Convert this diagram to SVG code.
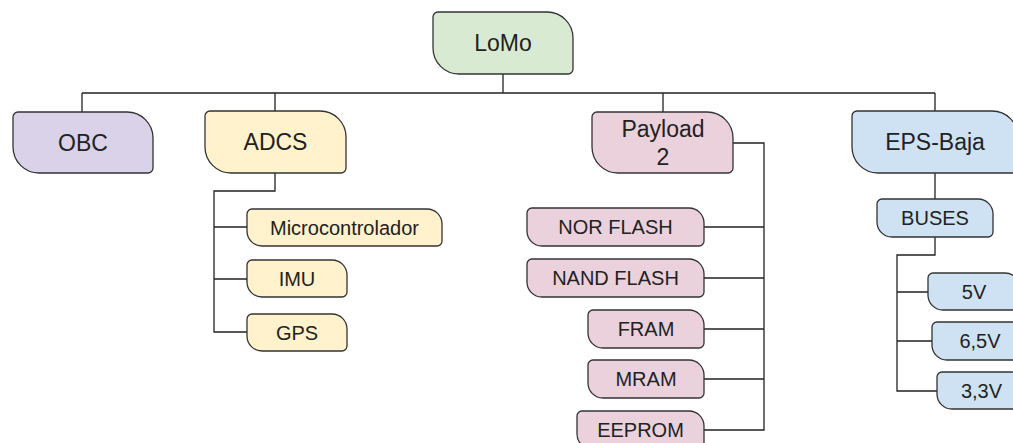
<svg xmlns="http://www.w3.org/2000/svg" width="1013" height="443" viewBox="0 0 1013 443">
<style>
.n{stroke:#333;stroke-width:1.3}
.g{fill:#d9ead3}.p{fill:#d9d2e9}.y{fill:#fff2cc}.k{fill:#ead1dc}.b{fill:#cfe2f3}
text{font-family:"Liberation Sans",Arial,sans-serif;fill:#222;text-anchor:middle}
.L{font-size:23px}.S{font-size:20px}
.c{fill:none;stroke:#222;stroke-width:1.3}
</style>
<rect width="1013" height="443" fill="#fff"/>
<g id="connectors">
<path class="c" d="M503,74 V93 M82,93 H935 M82,93 V112 M275,93 V111 M663,93 V112 M935,93 V111"/>
<path class="c" d="M275,173 V191 H214 V227 H247 M214,191 V279 H247 M214,191 V332 H247"/>
<path class="c" d="M733,143 H764 V430 H704 M764,227 H704 M764,278 H704 M764,329 H704 M764,379 H704"/>
<path class="c" d="M935,173 V199"/>
<path class="c" d="M935,237 V255 H897 V391 H937 M897,255 V292 H928 M897,255 V341 H932"/>
</g>
<g id="lomo"><path class="n g" d="M438,12 H547 A26 26 0 0 1 573,38 V69 A5 5 0 0 1 568,74 H459 A26 26 0 0 1 433,48 V17 A5 5 0 0 1 438,12 Z"/><text class="L" x="503" y="51">LoMo</text></g>
<g id="obc"><path class="n p" d="M18,112 H127 A26 26 0 0 1 153,138 V168 A5 5 0 0 1 148,173 H39 A26 26 0 0 1 13,147 V117 A5 5 0 0 1 18,112 Z"/><text class="L" x="83" y="151">OBC</text></g>
<g id="adcs"><path class="n y" d="M210,111 H320 A26 26 0 0 1 346,137 V168 A5 5 0 0 1 341,173 H231 A26 26 0 0 1 205,147 V116 A5 5 0 0 1 210,111 Z"/><text class="L" x="275.5" y="150">ADCS</text></g>
<g id="payload"><path class="n k" d="M597,112 H707 A26 26 0 0 1 733,138 V168 A5 5 0 0 1 728,173 H618 A26 26 0 0 1 592,147 V117 A5 5 0 0 1 597,112 Z"/><text class="L" x="663" y="137">Payload</text><text class="L" x="663" y="165">2</text></g>
<g id="eps"><path class="n b" d="M857,111 H992 A26 26 0 0 1 1018,137 V168 A5 5 0 0 1 1013,173 H878 A26 26 0 0 1 852,147 V116 A5 5 0 0 1 857,111 Z"/><text class="L" x="935" y="150">EPS-Baja</text></g>
<g id="micro"><path class="n y" d="M252,209 H427 A15 15 0 0 1 442,224 V241 A5 5 0 0 1 437,246 H262 A15 15 0 0 1 247,231 V214 A5 5 0 0 1 252,209 Z"/><text class="S" x="344.5" y="234.5">Microcontrolador</text></g>
<g id="imu"><path class="n y" d="M252,260 H332 A15 15 0 0 1 347,275 V292 A5 5 0 0 1 342,297 H262 A15 15 0 0 1 247,282 V265 A5 5 0 0 1 252,260 Z"/><text class="S" x="297" y="285.5">IMU</text></g>
<g id="gps"><path class="n y" d="M252,314 H332 A15 15 0 0 1 347,329 V346 A5 5 0 0 1 342,351 H262 A15 15 0 0 1 247,336 V319 A5 5 0 0 1 252,314 Z"/><text class="S" x="297" y="339.5">GPS</text></g>
<g id="norflash"><path class="n k" d="M532,208 H689 A15 15 0 0 1 704,223 V241 A5 5 0 0 1 699,246 H542 A15 15 0 0 1 527,231 V213 A5 5 0 0 1 532,208 Z"/><text class="S" x="615.5" y="234">NOR FLASH</text></g>
<g id="nandflash"><path class="n k" d="M532,259 H689 A15 15 0 0 1 704,274 V292 A5 5 0 0 1 699,297 H542 A15 15 0 0 1 527,282 V264 A5 5 0 0 1 532,259 Z"/><text class="S" x="615.5" y="285">NAND FLASH</text></g>
<g id="fram"><path class="n k" d="M593,310 H689 A15 15 0 0 1 704,325 V343 A5 5 0 0 1 699,348 H603 A15 15 0 0 1 588,333 V315 A5 5 0 0 1 593,310 Z"/><text class="S" x="646" y="336">FRAM</text></g>
<g id="mram"><path class="n k" d="M593,360 H689 A15 15 0 0 1 704,375 V393 A5 5 0 0 1 699,398 H603 A15 15 0 0 1 588,383 V365 A5 5 0 0 1 593,360 Z"/><text class="S" x="646" y="386">MRAM</text></g>
<g id="eeprom"><path class="n k" d="M582,411 H689 A15 15 0 0 1 704,426 V444 A5 5 0 0 1 699,449 H592 A15 15 0 0 1 577,434 V416 A5 5 0 0 1 582,411 Z"/><text class="S" x="640.5" y="437">EEPROM</text></g>
<g id="buses"><path class="n b" d="M882,199 H978 A15 15 0 0 1 993,214 V232 A5 5 0 0 1 988,237 H892 A15 15 0 0 1 877,222 V204 A5 5 0 0 1 882,199 Z"/><text class="S" x="935" y="225">BUSES</text></g>
<g id="v5"><path class="n b" d="M933,273 H1005 A15 15 0 0 1 1020,288 V305 A5 5 0 0 1 1015,310 H943 A15 15 0 0 1 928,295 V278 A5 5 0 0 1 933,273 Z"/><text class="S" x="974" y="298.5">5V</text></g>
<g id="v65"><path class="n b" d="M937,322 H1013 A15 15 0 0 1 1028,337 V355 A5 5 0 0 1 1023,360 H947 A15 15 0 0 1 932,345 V327 A5 5 0 0 1 937,322 Z"/><text class="S" x="980" y="348">6,5V</text></g>
<g id="v33"><path class="n b" d="M942,372 H1011 A15 15 0 0 1 1026,387 V404 A5 5 0 0 1 1021,409 H952 A15 15 0 0 1 937,394 V377 A5 5 0 0 1 942,372 Z"/><text class="S" x="981.5" y="397.5">3,3V</text></g>
</svg>
